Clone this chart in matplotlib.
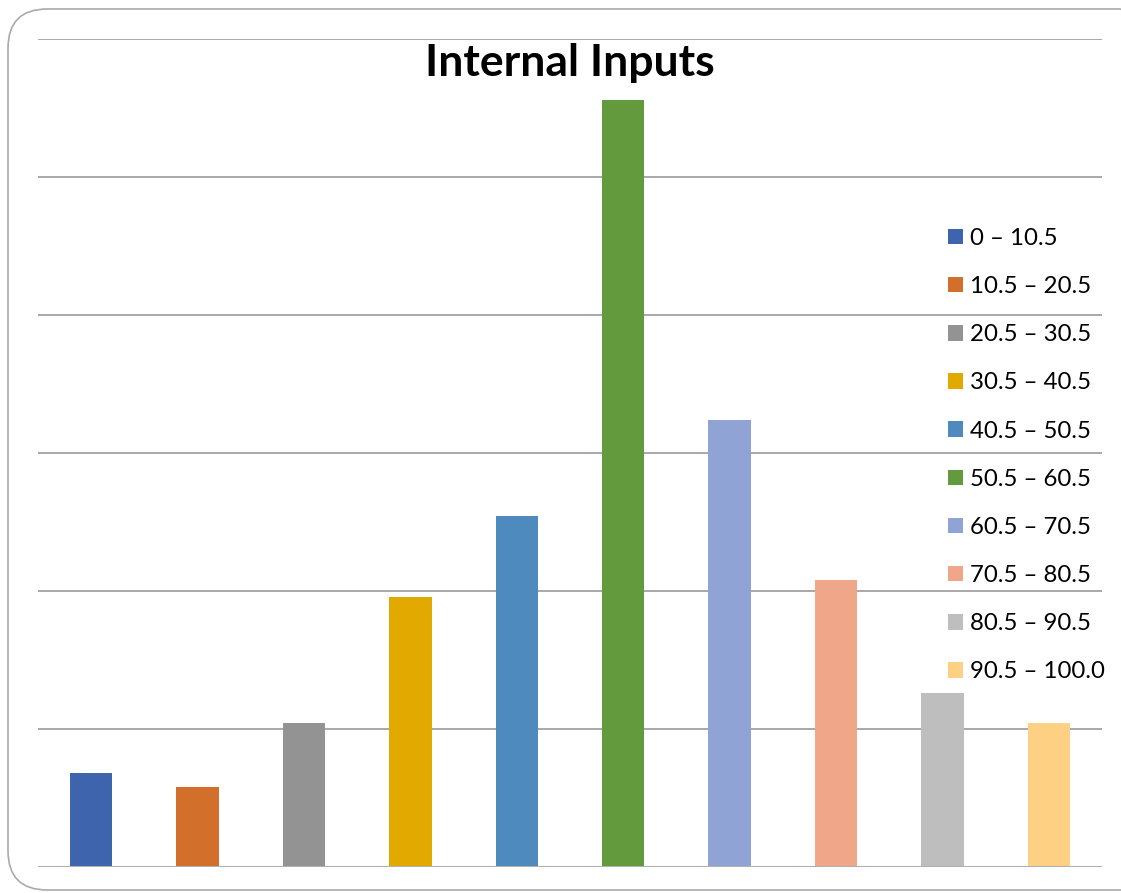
import matplotlib
matplotlib.use("Agg")
import matplotlib.pyplot as plt
from matplotlib.patches import Patch, FancyBboxPatch

categories = ["0 – 10.5", "10.5 – 20.5", "20.5 – 30.5", "30.5 – 40.5", "40.5 – 50.5",
              "50.5 – 60.5", "60.5 – 70.5", "70.5 – 80.5", "80.5 – 90.5", "90.5 – 100.0"]
values = [3.4, 2.9, 5.2, 9.8, 12.7, 27.8, 16.2, 10.4, 6.3, 5.2]
colors = ["#3D64AD", "#D26F2A", "#939393", "#E2AA00", "#4E8ABE",
          "#639A3D", "#8FA4D4", "#F0A789", "#BEBEBE", "#FED083"]
title = "Internal Inputs"

W, H = 1121, 893
fig = plt.figure(figsize=(W / 100, H / 100), dpi=100)

# rounded border
border = FancyBboxPatch((8 / W, 3 / H), (W + 30) / W, (H - 12) / H,
                        boxstyle="round,pad=0,rounding_size=0.035",
                        transform=fig.transFigure, fill=False,
                        edgecolor="#aaaaaa", linewidth=1.2, clip_on=False,
                        mutation_aspect=W / H)
fig.patches.append(border)

ax = fig.add_axes([38 / W, 1 - 867 / H, (1102 - 38) / W, (867 - 39) / H])
x = range(len(values))
ax.bar(x, values, width=0.40, color=colors, zorder=3)
ax.set_xlim(-0.5, len(values) - 0.5)
ax.set_ylim(0, 30)
ax.set_yticks([5, 10, 15, 20, 25, 30])
ax.yaxis.grid(True, color="#9a9a9a", linewidth=1.2, zorder=0)
ax.axhline(0, color="#b0b0b0", linewidth=2.2, zorder=4)
ax.tick_params(left=False, bottom=False, labelleft=False, labelbottom=False)
for s in ax.spines.values():
    s.set_visible(False)
ax.set_facecolor("none")

fig.text(570 / W, 1 - 63 / H, title, ha="center", va="center",
         fontsize=32, fontweight="bold", family="Lato")

handles = [Patch(facecolor=c, edgecolor="none") for c in colors]
leg = fig.legend(handles, categories, loc="upper left",
                 bbox_to_anchor=(948 / W, 1 - 228 / H), frameon=False,
                 prop={"family": "Lato", "size": 17.3},
                 handlelength=0.62, handleheight=0.62, handletextpad=0.3,
                 labelspacing=1.13, borderpad=0, borderaxespad=0)

fig.savefig("out.png", dpi=100)
